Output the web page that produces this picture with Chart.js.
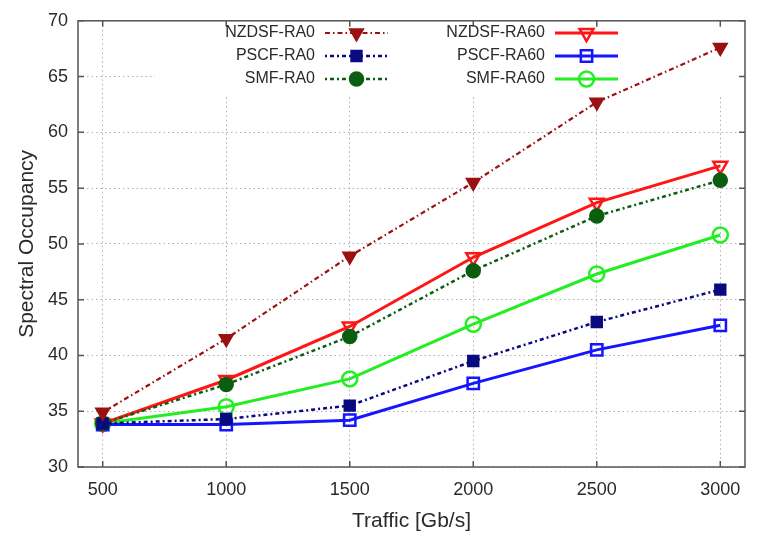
<!DOCTYPE html>
<html>
<head>
<meta charset="utf-8">
<script src="https://cdn.jsdelivr.net/npm/chart.js@4/dist/chart.umd.min.js"></script>
<style>
  html, body { margin: 0; padding: 0; background: #fff; }
  #wrap { width: 759px; height: 536px; }
</style>
</head>
<body>
<div id="wrap"><canvas id="chart"></canvas></div>
<script>
var traffic = [500, 1000, 1500, 2000, 2500, 3000];
var xTicks = [500, 1000, 1500, 2000, 2500, 3000];

var nzdsfRA0 = [34.9, 41.5, 48.9, 55.5, 62.7, 67.6];
var pscfRA0 = [33.9, 34.3, 35.5, 39.5, 43.0, 45.9];
var smfRA0 = [33.9, 37.4, 41.7, 47.6, 52.5, 55.7];
var nzdsfRA60 = [33.9, 37.8, 42.6, 48.8, 53.7, 57.0];
var pscfRA60 = [33.8, 33.8, 34.2, 37.5, 40.5, 42.7];
var smfRA60 = [33.9, 35.4, 37.9, 42.8, 47.3, 50.8];

var textColor = '#2a2a2a';
var fontFam = '"Liberation Sans", Arial, sans-serif';

function pts(vals) {
  return vals.map(function (v, i) { return { x: traffic[i], y: v }; });
}

function series(label, vals, color, dash, style, rot, filled, width, radius) {
  return {
    label: label,
    data: pts(vals),
    borderColor: color,
    backgroundColor: filled ? color : 'rgba(0,0,0,0)',
    borderWidth: width,
    borderDash: dash,
    pointStyle: style,
    pointRotation: rot,
    pointRadius: radius,
    pointBorderWidth: 2.5,
    pointBorderColor: color,
    pointBackgroundColor: filled ? color : 'rgba(0,0,0,0)',
    tension: 0
  };
}

// white key box, frame, inward ticks and the gnuplot-like legend
var gnuplotLook = {
  id: 'gnuplotLook',
  beforeDatasetsDraw: function (chart) {
    var ctx = chart.ctx, a = chart.chartArea;
    ctx.save();
    ctx.fillStyle = '#fff';
    ctx.fillRect(155, a.top + 1, a.right - 155 - 1, 96 - a.top);
    ctx.restore();
  },
  afterDatasetsDraw: function (chart) {
    var ctx = chart.ctx, a = chart.chartArea;
    var xs = chart.scales.x, ys = chart.scales.y;
    ctx.save();
    ctx.strokeStyle = '#555';
    ctx.lineWidth = 1.5;
    ctx.strokeRect(a.left, a.top, a.right - a.left, a.bottom - a.top);
    ctx.beginPath();
    xTicks.forEach(function (t) {
      var px = xs.getPixelForValue(t);
      ctx.moveTo(px, a.bottom); ctx.lineTo(px, a.bottom - 6);
      ctx.moveTo(px, a.top); ctx.lineTo(px, a.top + 6);
    });
    ys.ticks.forEach(function (t) {
      var py = ys.getPixelForValue(t.value);
      ctx.moveTo(a.left, py); ctx.lineTo(a.left + 6, py);
      ctx.moveTo(a.right, py); ctx.lineTo(a.right - 6, py);
    });
    ctx.stroke();

    // legend: two columns of three
    var cols = [{ textRight: 315, lineL: 325, lineR: 388 }, { textRight: 545, lineL: 555, lineR: 618 }];
    var rows = [33, 56, 79];
    ctx.font = '16px ' + fontFam;
    ctx.textAlign = 'right';
    ctx.textBaseline = 'middle';
    chart.data.datasets.forEach(function (ds, i) {
      var c = cols[Math.floor(i / 3)], y = rows[i % 3];
      ctx.fillStyle = textColor;
      ctx.fillText(ds.label, c.textRight, y);
      ctx.save();
      ctx.strokeStyle = ds.borderColor;
      ctx.lineWidth = ds.borderWidth;
      ctx.setLineDash(ds.borderDash || []);
      ctx.beginPath();
      ctx.moveTo(c.lineL, y); ctx.lineTo(c.lineR, y);
      ctx.stroke();
      ctx.setLineDash([]);
      ctx.fillStyle = ds.pointBackgroundColor;
      ctx.strokeStyle = ds.pointBorderColor;
      ctx.lineWidth = ds.pointBorderWidth;
      Chart.helpers.drawPoint(ctx, {
        pointStyle: ds.pointStyle,
        rotation: ds.pointRotation,
        radius: ds.pointRadius,
        borderWidth: ds.pointBorderWidth
      }, (c.lineL + c.lineR) / 2, y);
      ctx.restore();
    });
    ctx.restore();
  }
};

new Chart(document.getElementById('chart'), {
  type: 'line',
  data: {
    datasets: [
      series('NZDSF-RA0', nzdsfRA0, '#9b1010', [5, 3, 1.5, 3], 'triangle', 180, true, 2.2, 7),
      series('PSCF-RA0', pscfRA0, '#0a0a80', [2, 3, 4, 3], 'rect', 0, true, 2.5, 7),
      series('SMF-RA0', smfRA0, '#0b5e10', [2, 3, 4, 3], 'circle', 0, true, 2.5, 6.5),
      series('NZDSF-RA60', nzdsfRA60, '#ff1515', [], 'triangle', 180, false, 3, 8),
      series('PSCF-RA60', pscfRA60, '#1515ff', [], 'rect', 0, false, 3, 8),
      series('SMF-RA60', smfRA60, '#22ee22', [], 'circle', 0, false, 3, 7.5)
    ]
  },
  options: {
    responsive: true,
    maintainAspectRatio: false,
    animation: false,
    layout: { padding: { top: 16, right: 14, left: 15, bottom: 0 } },
    plugins: {
      legend: { display: false },
      tooltip: { enabled: false }
    },
    scales: {
      x: {
        type: 'linear',
        min: 400,
        max: 3100,
        afterBuildTicks: function (axis) {
          axis.ticks = xTicks.map(function (v) { return { value: v }; });
        },
        afterFit: function (axis) { axis.height = 69; },
        border: { display: false, dash: [1.5, 3] },
        grid: { color: '#b0b0b0', lineWidth: 1, drawTicks: false },
        ticks: {
          color: textColor,
          padding: 12,
          maxRotation: 0,
          callback: function (v) { return String(v); },
          font: { family: fontFam, size: 18 }
        },
        title: {
          display: true,
          text: 'Traffic [Gb/s]',
          color: textColor,
          padding: { top: 4, bottom: 2 },
          font: { family: fontFam, size: 21 }
        }
      },
      y: {
        min: 30,
        max: 70,
        afterFit: function (axis) { axis.width = 63; },
        border: { display: false, dash: [1.5, 3] },
        grid: { color: '#b0b0b0', lineWidth: 1, drawTicks: false },
        ticks: {
          stepSize: 5,
          color: textColor,
          padding: 10,
          callback: function (v) { return String(v); },
          font: { family: fontFam, size: 18 }
        },
        title: {
          display: true,
          text: 'Spectral Occupancy',
          color: textColor,
          padding: { top: 0, bottom: 0 },
          font: { family: fontFam, size: 21 }
        }
      }
    }
  },
  plugins: [gnuplotLook]
});
</script>
</body>
</html>
